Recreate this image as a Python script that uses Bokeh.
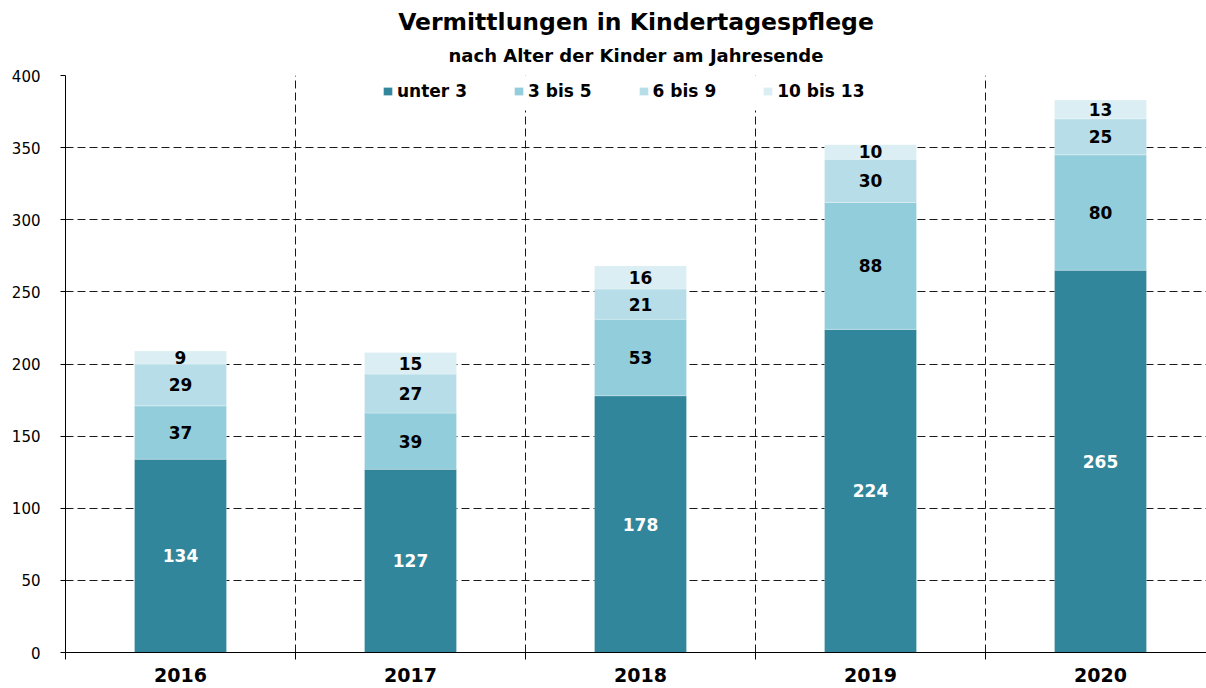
from bokeh.plotting import figure
from bokeh.models import (ColumnDataSource, LabelSet, FixedTicker, SingleIntervalTicker,
                          Range1d, Title, BoxAnnotation)
from bokeh.core.properties import value
from bokeh.embed import file_html
from bokeh.resources import INLINE

# ---- data ----
years = ["2016", "2017", "2018", "2019", "2020"]
series = ["unter 3", "3 bis 5", "6 bis 9", "10 bis 13"]
unter_3 = [134, 127, 178, 224, 265]
bis_5 = [37, 39, 53, 88, 80]
bis_9 = [29, 27, 21, 30, 25]
bis_13 = [9, 15, 16, 10, 13]
colors = ["#31869B", "#92CDDC", "#B7DEE8", "#DAEEF3"]
label_colors = ["white", "black", "black", "black"]
y_ticks_interval = 50

FONT = "DejaVu Sans"

values = [unter_3, bis_5, bis_9, bis_13]
xs = list(range(1, len(years) + 1))
keys = ["s0", "s1", "s2", "s3"]
data = {"x": xs}
for k, v in zip(keys, values):
    data[k] = v
source = ColumnDataSource(data)

FW, FH = 1141, 577
p = figure(frame_width=FW, frame_height=FH, output_backend="svg", toolbar_location=None,
           x_range=Range1d(0.5, 0.5 + FW / 230), y_range=Range1d(0, 400),
           min_border_left=65, min_border_right=0, min_border_top=75, min_border_bottom=0,
           title=None)
p.outline_line_color = None

# titles
p.add_layout(Title(text="nach Alter der Kinder am Jahresende", align="center",
                   text_font=FONT, text_font_size="18px", text_font_style="bold",
                   text_color="black", standoff=19), "above")
p.add_layout(Title(text="Vermittlungen in Kindertagespflege", align="center",
                   text_font=FONT, text_font_size="23.5px", text_font_style="bold",
                   text_color="black", standoff=-4), "above")

# grid
p.ygrid.ticker = SingleIntervalTicker(interval=y_ticks_interval)
p.ygrid.grid_line_color = "#1a1a1a"
p.ygrid.grid_line_dash = "8 4"
p.ygrid.grid_line_width = 1
p.xgrid.ticker = FixedTicker(ticks=[x + 0.5 for x in xs[:-1]])
p.xgrid.grid_line_color = "#1a1a1a"
p.xgrid.grid_line_dash = "8 4"
p.xgrid.grid_line_width = 1

# bars
renderers = p.vbar_stack(keys, x="x", width=0.4, source=source, color=colors,
                         line_color="white", line_width=0.5, line_alpha=0.5,
                         legend_label=series)

# segment labels
lx, ly, lt, lc = [], [], [], []
for i, x in enumerate(xs):
    base = 0
    for s, v in enumerate(values):
        lx.append(x)
        ly.append(base + v[i] / 2)
        lt.append(str(v[i]))
        lc.append(label_colors[s])
        base += v[i]
lsrc = ColumnDataSource(dict(x=lx, y=ly, text=lt, color=lc))
p.add_layout(LabelSet(x="x", y="y", text="text", source=lsrc, text_color="color",
                      text_align="center", text_baseline="middle",
                      text_font=value(FONT), text_font_size="17px", text_font_style="bold"))

# white box behind legend
p.add_layout(BoxAnnotation(left=0.5 + (340 - 65) / 230, right=0.5 + (898 - 65) / 230,
                           bottom=(652 - 110) / (FH / 400),
                           fill_color="white", fill_alpha=1, line_color=None))

leg = p.legend[0]
leg.orientation = "horizontal"
leg.location = (317, 551)
leg.background_fill_alpha = 0
leg.border_line_color = None
leg.padding = 0
leg.margin = 0
leg.spacing = 46
leg.glyph_width = 11
leg.glyph_height = 10
leg.label_standoff = 4
leg.label_height = 20
leg.label_text_font = FONT
leg.label_text_font_size = "17px"
leg.label_text_font_style = "bold"
leg.label_text_color = "black"

# y axis
p.yaxis.ticker = SingleIntervalTicker(interval=y_ticks_interval, num_minor_ticks=0)
p.yaxis.axis_line_color = "black"
p.yaxis.major_tick_line_color = "black"
p.yaxis.major_tick_out = 5
p.yaxis.major_tick_in = 0
p.yaxis.minor_tick_line_color = None
p.yaxis.major_label_standoff = 20
p.yaxis.major_label_text_font = FONT
p.yaxis.major_label_text_font_size = "15px"
p.yaxis.major_label_text_color = "black"

# x axis
p.xaxis.ticker = FixedTicker(ticks=xs, minor_ticks=[x - 0.5 for x in xs] + [xs[-1] + 0.5])
p.xaxis.major_label_overrides = {x: y for x, y in zip(xs, years)}
p.xaxis.axis_line_color = "black"
p.xaxis.major_tick_line_color = None
p.xaxis.major_tick_out = 0
p.xaxis.major_tick_in = 0
p.xaxis.minor_tick_line_color = "black"
p.xaxis.minor_tick_out = 7
p.xaxis.minor_tick_in = 0
p.xaxis.major_label_standoff = 8
p.xaxis.major_label_text_font = FONT
p.xaxis.major_label_text_font_size = "19px"
p.xaxis.major_label_text_font_style = "bold"
p.xaxis.major_label_text_color = "black"

open("out.html", "w").write(file_html(p, INLINE))
